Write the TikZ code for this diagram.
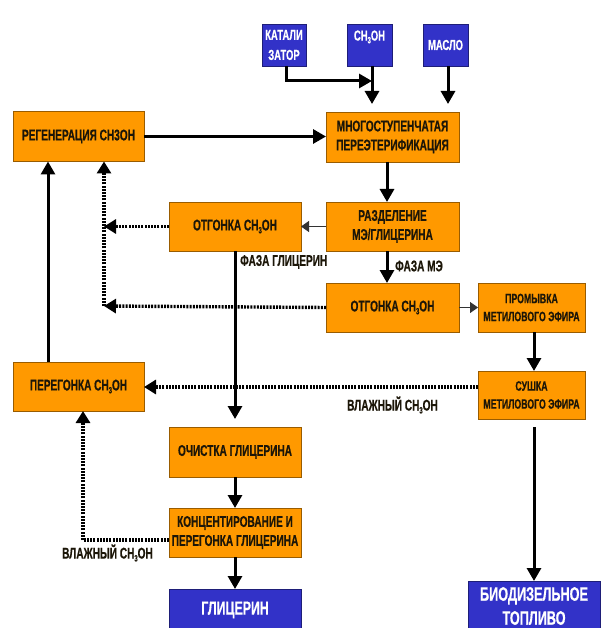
\documentclass[tikz,border=0pt]{standalone}
\usepackage{fontspec}
\setmainfont[FakeStretch=0.65,FakeBold=0.5]{Liberation Sans}
\usetikzlibrary{arrows.meta,calc}
\definecolor{boxorange}{HTML}{FF9900}
\definecolor{boxblue}{HTML}{3232C8}
\definecolor{inkdark}{HTML}{1C1608}
\newcommand{\subthree}{\raisebox{-0.35ex}{\fontsize{9}{9}\selectfont 3}}
\tikzset{
  basebox/.style={draw=#1!60!black,line width=0.7pt,inner sep=0pt,outer sep=0pt,align=center,font=\bfseries\fontsize{15.5}{19}\selectfont},
  obox/.style={basebox=boxorange,fill=boxorange,text=inkdark},
  bbox/.style={basebox=boxblue,fill=boxblue,text=white},
  smalltext/.style={font=\bfseries\fontsize{13.5}{18}\selectfont},
  lbl/.style={inner sep=0pt,text=inkdark,font=\bfseries\fontsize{15.5}{15}\selectfont},
  flow/.style={line width=3pt,draw=black,-{Triangle[length=13pt,width=14pt]}},
  thinflow/.style={line width=1pt,draw=black!80,-{Triangle[length=8pt,width=11pt]}},
  dotflow/.style={line width=3.4pt,draw=black,dash pattern=on 2pt off 1.2pt,-{Triangle[length=12pt,width=14pt,sep=0pt]}},
  dotplain/.style={line width=3.4pt,draw=black,dash pattern=on 2pt off 1.2pt},
}
\begin{document}
\begin{tikzpicture}[x=1pt,y=-1pt]
\useasboundingbox[fill=white] (0,0) rectangle (600,628);
% blue inputs
\node[bbox,minimum width=44pt,minimum height=42pt,font=\bfseries\fontsize{14.5}{20}\selectfont] (kat) at (284,45) {КАТАЛИ\\ЗАТОР};
\node[bbox,minimum width=45pt,minimum height=42pt,font=\bfseries\fontsize{14.5}{16}\selectfont] (met) at (369.5,45) {CH\subthree OH\\[3pt]\mbox{}};
\node[bbox,minimum width=45pt,minimum height=42pt,font=\bfseries\fontsize{14.5}{16}\selectfont] (oil) at (445.5,45) {МАСЛО};
% orange process boxes
\node[obox,minimum width=133pt,minimum height=50pt] (mnog) at (392.5,137) {МНОГОСТУПЕНЧАТАЯ\\ПЕРЕЭТЕРИФИКАЦИЯ};
\node[obox,minimum width=131pt,minimum height=50pt] (reg) at (78.5,136.5) {РЕГЕНЕРАЦИЯ СН3ОН};
\node[obox,minimum width=132pt,minimum height=49pt] (otg1) at (235,226.5) {ОТГОНКА CH\subthree OH};
\node[obox,minimum width=133pt,minimum height=49pt] (razd) at (392.5,226.5) {РАЗДЕЛЕНИЕ\\МЭ/ГЛИЦЕРИНА};
\node[obox,minimum width=133pt,minimum height=49pt] (otg2) at (392.5,307.5) {ОТГОНКА CH\subthree OH};
\node[obox,smalltext,minimum width=107pt,minimum height=49pt] (prom) at (531.5,307.5) {ПРОМЫВКА\\МЕТИЛОВОГО ЭФИРА};
\node[obox,smalltext,minimum width=107pt,minimum height=48pt] (sush) at (531.5,395) {СУШКА\\МЕТИЛОВОГО ЭФИРА};
\node[obox,minimum width=131pt,minimum height=49pt] (pere) at (78.5,386.5) {ПЕРЕГОНКА CH\subthree OH};
\node[obox,minimum width=132pt,minimum height=50pt] (ochi) at (235,452) {ОЧИСТКА ГЛИЦЕРИНА};
\node[obox,minimum width=132pt,minimum height=49pt] (konc) at (235,532.5) {КОНЦЕНТИРОВАНИЕ И\\ПЕРЕГОНКА ГЛИЦЕРИНА};
% blue outputs
\node[bbox,minimum width=132pt,minimum height=42pt,font=\bfseries\fontsize{19}{24}\selectfont] (glic) at (235,610) {ГЛИЦЕРИН};
\node[bbox,minimum width=132pt,minimum height=50pt,font=\bfseries\fontsize{19.5}{24}\selectfont] (biod) at (534,606) {БИОДИЗЕЛЬНОЕ\\ТОПЛИВО};
% labels
\node[lbl,anchor=west] (lgl) at (240,262) {ФАЗА ГЛИЦЕРИН};
\node[lbl,anchor=west] (lme) at (395,266) {ФАЗА МЭ};
\node[lbl,anchor=west] (lvl1) at (347,405) {ВЛАЖНЫЙ CH\subthree OH};
\node[lbl,anchor=west] (lvl2) at (62,553) {ВЛАЖНЫЙ CH\subthree OH};
% junctions
\coordinate (mettip) at ($(met.south)+(2.5,38)$);
\coordinate (mixtip) at ($(met.south)+(2.5,15)$);
\coordinate (oiltip) at ($(oil.south)+(2.5,38)$);
\coordinate (dotbus) at (104,306);
\coordinate (dotmid) at (104,226.5);
\coordinate (dotlow) at (83,540);
\coordinate (ochitip) at (235,419);
\coordinate (dryout) at (534,427);
% solid connectors
\draw[flow] ([xshift=2.5pt]kat.south) |- (mixtip);
\draw[flow] ([xshift=2.5pt]met.south) -- (mettip);
\draw[flow] ([xshift=2.5pt]oil.south) -- (oiltip);
\draw[flow] (reg.east) -- (reg.east -| mnog.west);
\draw[flow] ([xshift=-5.5pt]mnog.south) -- ([xshift=-5.5pt]razd.north);
\draw[flow] ([xshift=-5.5pt]razd.south) -- ([xshift=-5.5pt]otg2.north);
\draw[thinflow] (razd.west) -- (otg1.east);
\draw[thinflow] (otg2.east) -- (prom.west);
\draw[flow] ([xshift=2.5pt]prom.south) -- ([xshift=2.5pt]sush.north);
\draw[flow] (dryout) -- (dryout |- biod.north);
\draw[flow] (otg1.south) -- (ochitip);
\draw[flow] (ochi.south) -- (konc.north);
\draw[flow] (konc.south) -- (glic.north);
\draw[flow] ([xshift=-30.5pt]pere.north) -- ([xshift=-30.5pt]reg.south);
% dotted connectors
\draw[dotflow] (otg1.west) -- (dotmid);
\draw[dotflow] (otg2.west) -- (dotbus);
\draw[dotflow] (dotbus) -- (dotbus |- reg.south);
\draw[dotflow] (sush.west |- 0,387) -- (pere.east |- 0,387);
\draw[dotplain] (konc.west |- dotlow) -- (dotlow);
\draw[dotflow] (dotlow) -- (dotlow |- pere.south);
\end{tikzpicture}
\end{document}
